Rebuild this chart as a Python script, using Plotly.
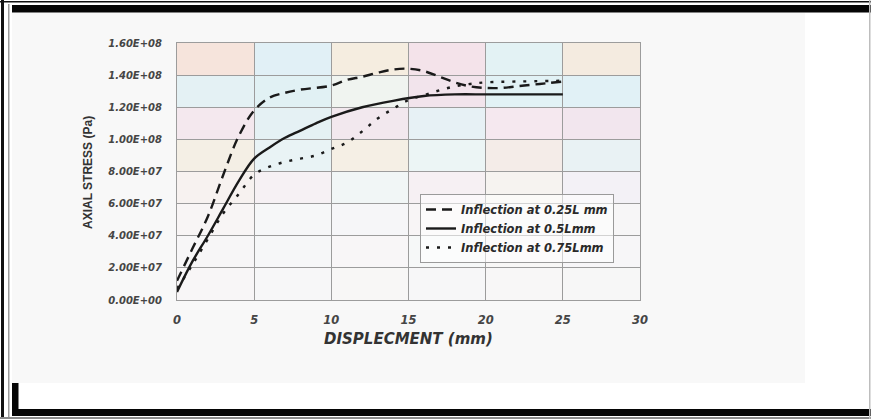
import plotly.graph_objects as go

# ---- data ----
x_025 = [0, 1, 2, 3, 4, 5, 6, 7, 8, 10, 11, 12, 13, 14, 15, 16, 17, 18, 19, 20, 21, 22, 23, 24, 25]
y_025 = [1.2e7, 3.2e7, 5.2e7, 7.8e7, 1.02e8, 1.18e8, 1.26e8, 1.29e8, 1.31e8, 1.335e8, 1.37e8, 1.39e8,
         1.415e8, 1.435e8, 1.44e8, 1.425e8, 1.39e8, 1.355e8, 1.33e8, 1.32e8, 1.32e8, 1.33e8, 1.34e8,
         1.35e8, 1.36e8]

x_05 = [0, 1, 2, 3, 4, 5, 6, 7, 8, 9, 10, 12, 14, 16, 18, 20, 22, 25]
y_05 = [5e6, 2.4e7, 4.0e7, 5.7e7, 7.4e7, 8.8e7, 9.5e7, 1.01e8, 1.055e8, 1.10e8, 1.14e8, 1.20e8,
        1.24e8, 1.27e8, 1.28e8, 1.28e8, 1.28e8, 1.28e8]

x_075 = [0, 1, 2, 3, 4, 5, 6, 7, 8, 9, 10, 11, 12, 13, 14, 15, 16, 17, 18, 19, 20, 22, 25]
y_075 = [7e6, 2.2e7, 3.8e7, 5.4e7, 6.6e7, 7.8e7, 8.3e7, 8.6e7, 8.8e7, 9.0e7, 9.4e7, 9.8e7, 1.05e8,
         1.13e8, 1.19e8, 1.245e8, 1.275e8, 1.305e8, 1.33e8, 1.345e8, 1.355e8, 1.36e8, 1.365e8]

names = ["Inflection at 0.25L mm", "Inflection at 0.5Lmm", "Inflection at 0.75Lmm"]

x_ticks = [0, 5, 10, 15, 20, 25, 30]
y_ticks = [0, 2e7, 4e7, 6e7, 8e7, 1e8, 1.2e8, 1.4e8, 1.6e8]
y_tick_labels = ["0.00E+00", "2.00E+07", "4.00E+07", "6.00E+07", "8.00E+07",
                 "1.00E+08", "1.20E+08", "1.40E+08", "1.60E+08"]

# ---- layout geometry (pixels) ----
W, H = 871, 419
L, R, T, B = 177, 640, 43, 300


def px(x):
    return (x - L) / (R - L)


def py(y):
    return (B - y) / (B - T)


LINE = "#1a1a1a"
fig = go.Figure()
fig.add_trace(go.Scatter(x=x_025, y=y_025, mode="lines", name=names[0], line_shape="spline",
                         line=dict(color=LINE, width=2.4, dash="10px,6px")))
fig.add_trace(go.Scatter(x=x_05, y=y_05, mode="lines", name=names[1], line_shape="spline",
                         line=dict(color=LINE, width=2.4)))
fig.add_trace(go.Scatter(x=x_075, y=y_075, mode="lines", name=names[2], line_shape="spline",
                         line=dict(color=LINE, width=2.4, dash="3px,8px")))

shapes = []
# faint scanned-page tint
shapes.append(dict(type="rect", xref="paper", yref="paper", x0=px(12), x1=px(805), y0=py(383), y1=py(13),
                   fillcolor="#f8f8f8", line_width=0, layer="below"))
# pastel background cells of the plot area (soft, blended)
cell_colors = [
    ["#f8f6f7", "#f7f7f8", "#f8f7f6", "#f7f7f8", "#f8f7f7", "#f7f7f7"],
    ["#f7f6f7", "#f6f7f8", "#f8f6f7", "#f6f8f8", "#f8f7f6", "#f7f6f8"],
    ["#f8f5f5", "#f6f7f8", "#f6f6f8", "#f8f5f6", "#f5f7f7", "#f7f6f7"],
    ["#f7f2f0", "#f6f1f4", "#f1f6f6", "#f6f0f3", "#f6f3f0", "#f3f1f6"],
    ["#f4efe5", "#e9f3f5", "#f5efe5", "#ecf5f5", "#f4ece8", "#e9f2f4"],
    ["#f4e8ee", "#e5f1f4", "#f2e8ee", "#e7f1f5", "#f5e8ef", "#f2e6ee"],
    ["#e4f1f4", "#e1f1f4", "#f0f4f0", "#f2e4ec", "#e2f2f5", "#e1f1f6"],
    ["#f6e4dc", "#e1f0f6", "#f5ede0", "#f4e3ea", "#e3f2f4", "#f4ebe0"],
]
for r, row in enumerate(cell_colors):
    for c, col in enumerate(row):
        shapes.append(dict(type="rect", xref="x", yref="y", x0=c * 5, x1=(c + 1) * 5,
                           y0=r * 2e7, y1=(r + 1) * 2e7, fillcolor=col, line_width=0, layer="below"))


# scanned frame lines
def prect(x0, y0, x1, y1, color):
    shapes.append(dict(type="rect", xref="paper", yref="paper", x0=px(x0), x1=px(x1),
                       y0=py(y1), y1=py(y0), fillcolor=color, line_width=0, layer="above"))


prect(1, 0, 4, 419, "#111111")        # outer left thin black
prect(0, 1, 871, 2.5, "#111111")      # outer top thin black
prect(8, 4, 9.5, 419, "#9a9a9a")      # inner left gray
prect(12, 5, 871, 12.5, "#050505")    # top thick band
prect(12, 383, 18.5, 416, "#050505")  # left thick bar (bottom)
prect(12, 409, 871, 416, "#050505")   # bottom thick band
prect(0, 417, 871, 419, "#8a8a8a")    # bottom gray line
prect(869, 0, 870.5, 419, "#bdbdbd")  # right gray line

TICKFONT = dict(family="DejaVu Sans", size=10, color="#454545", weight="bold", style="italic")

fig.update_layout(
    width=W, height=H,
    margin=dict(l=L, r=W - R, t=T, b=H - B, pad=0),
    paper_bgcolor="white", plot_bgcolor="#f7f5f6",
    showlegend=True,
    legend=dict(x=px(420), y=py(194), xanchor="left", yanchor="top",
                bgcolor="rgba(255,255,255,0.55)", bordercolor="#9a9a9a", borderwidth=1,
                font=dict(family="DejaVu Sans", size=11.5, color="#2a2a2a", weight="bold", style="italic"),
                itemwidth=30, tracegroupgap=0),
    shapes=shapes,
    annotations=[
        dict(text="DISPLECMENT (mm)", xref="paper", yref="paper", x=px(408), y=py(339),
             xanchor="center", yanchor="middle", showarrow=False,
             font=dict(family="DejaVu Sans", size=15, color="#333333", weight="bold", style="italic")),
        dict(text="AXIAL STRESS (Pa)", xref="paper", yref="paper", x=px(88), y=py(173),
             xanchor="center", yanchor="middle", showarrow=False, textangle=-90,
             font=dict(family="Liberation Sans", size=12, color="#333333", weight="bold")),
    ],
)
fig.update_xaxes(range=[0, 30], tickvals=x_ticks, ticktext=[str(v) for v in x_ticks],
                 tickfont=dict(family="DejaVu Sans", size=11.5, color="#454545", weight="bold", style="italic"),
                 showgrid=True, gridcolor="#9c9c9c", gridwidth=1, zeroline=False,
                 showline=True, linecolor="#9c9c9c", linewidth=1, mirror=True,
                 ticks="", ticklabelstandoff=9)
fig.update_yaxes(range=[0, 1.6e8], tickvals=y_ticks, ticktext=y_tick_labels, tickfont=TICKFONT,
                 showgrid=True, gridcolor="#9c9c9c", gridwidth=1, zeroline=False,
                 showline=True, linecolor="#9c9c9c", linewidth=1, mirror=True,
                 ticks="", ticklabelstandoff=12)

fig.write_html("out.html")
